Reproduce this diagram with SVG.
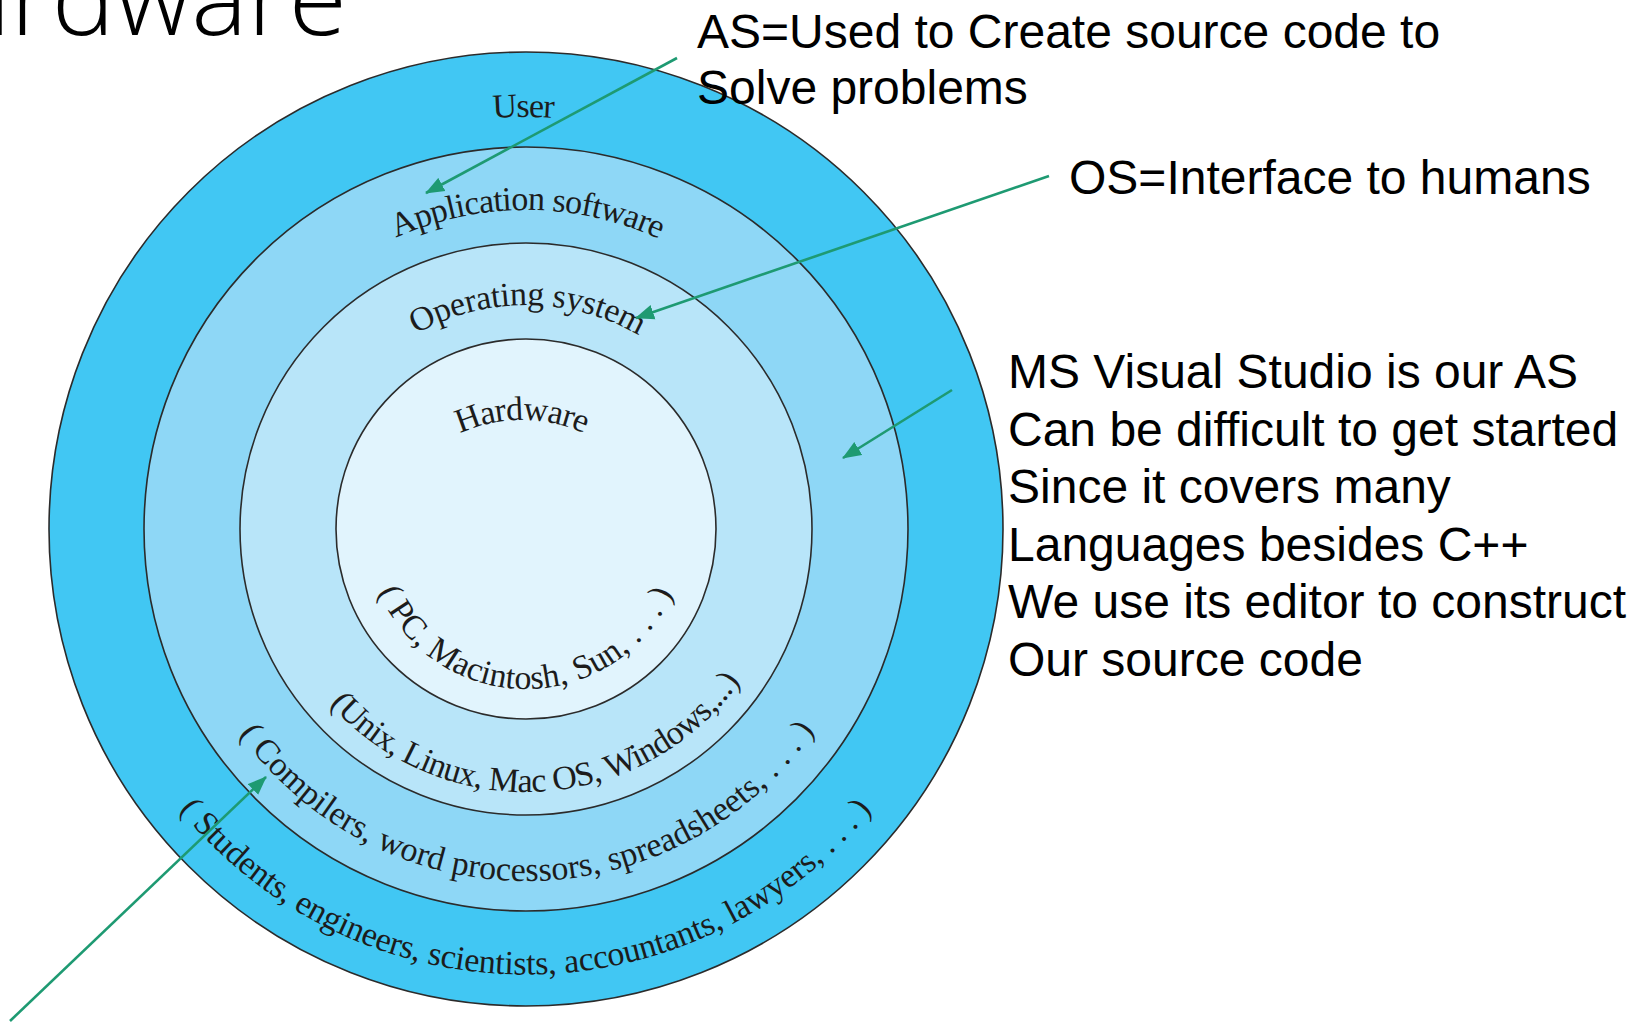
<svg xmlns="http://www.w3.org/2000/svg" width="1642" height="1023" viewBox="0 0 1642 1023">
<style>
.ring{stroke:#2b2b2b;stroke-width:1.6}
.lbl{font-family:"Liberation Serif","Times New Roman",serif;font-size:34px;fill:#1c1c1c}
.note{font-family:"Liberation Sans",Arial,sans-serif;font-size:48px;fill:#000}
.title{font-family:"Open Sans","DejaVu Sans",sans-serif;font-weight:300;font-size:106px;fill:#000}
.conn{stroke:#1e9a72;stroke-width:2.6;fill:none}
</style>
<defs>
<marker id="ah" markerUnits="userSpaceOnUse" markerWidth="19" markerHeight="16" viewBox="0 0 19 16" refX="18" refY="8" orient="auto">
<path d="M0,0.5 L19,8 L0,15.5 z" fill="#1e9a72"/>
</marker>
<path id="pUser" d="M493,118.3 A412,412 0 0 1 554,118"/>
<path id="pApp" d="M396,237.7 A319,319 0 0 1 659,239"/>
<path id="pOS" d="M416,334 A225,225 0 0 1 639,335.5"/>
<path id="pHW" d="M460,433.4 A150,150 0 0 1 586,434.3"/>
<path id="pPC" d="M378.7,591.5 A160,160 0 0 0 674.4,588.9"/>
<path id="pUnix" d="M329.6,704 A263,263 0 0 0 740.1,681.7"/>
<path id="pComp" d="M239.4,733.4 A352,352 0 0 0 814.4,730.9"/>
<path id="pStud" d="M179.4,809.3 A446,446 0 0 0 869.8,812.6"/>
</defs>
<rect width="1642" height="1023" fill="#fff"/>

<g id="title">
<text class="title" x="347" y="35" text-anchor="end">Hardware</text>
</g>

<g id="ring-user">
<circle class="ring" cx="526" cy="529" r="477" fill="#41c7f3"/>
<text class="lbl"><textPath href="#pUser" textLength="61">User</textPath></text>
<text class="lbl"><textPath href="#pStud" textLength="793">( Students, engineers, scientists, accountants, lawyers, . . . )</textPath></text>
</g>

<g id="ring-app">
<circle class="ring" cx="526" cy="529" r="382" fill="#8ed7f6"/>
<text class="lbl"><textPath href="#pApp" textLength="271">Application software</textPath></text>
<text class="lbl"><textPath href="#pComp" textLength="673">( Compilers, word processors, spreadsheets, . . . )</textPath></text>
</g>

<g id="ring-os">
<circle class="ring" cx="526" cy="529" r="286" fill="#b8e5f9"/>
<text class="lbl"><textPath href="#pOS" textLength="233">Operating system</textPath></text>
<text class="lbl"><textPath href="#pUnix" textLength="472">(Unix, Linux, Mac OS, Windows,...)</textPath></text>
</g>

<g id="ring-hw">
<circle class="ring" cx="526" cy="529" r="190" fill="#e1f4fd"/>
<text class="lbl"><textPath href="#pHW" textLength="128">Hardware</textPath></text>
<text class="lbl"><textPath href="#pPC" textLength="372">( PC, Macintosh, Sun, . . . )</textPath></text>
</g>

<g id="note-as">
<text class="note" x="697" y="48">AS=Used to Create source code to</text>
<text class="note" x="697" y="104">Solve problems</text>
</g>

<g id="note-os">
<text class="note" x="1069" y="194">OS=Interface to humans</text>
</g>

<g id="note-vs">
<text class="note" x="1008" y="388">MS Visual Studio is our AS</text>
<text class="note" x="1008" y="445.5">Can be difficult to get started</text>
<text class="note" x="1008" y="503">Since it covers many</text>
<text class="note" x="1008" y="560.5">Languages besides C++</text>
<text class="note" x="1008" y="618">We use its editor to construct</text>
<text class="note" x="1008" y="675.5">Our source code</text>
</g>

<g id="connectors">
<line class="conn" x1="677" y1="58" x2="426" y2="193" marker-end="url(#ah)"/>
<line class="conn" x1="1049" y1="176" x2="636" y2="318" marker-end="url(#ah)"/>
<line class="conn" x1="952" y1="390" x2="843" y2="458" marker-end="url(#ah)"/>
<line class="conn" x1="10" y1="1021" x2="266" y2="777" marker-end="url(#ah)"/>
</g>
</svg>
